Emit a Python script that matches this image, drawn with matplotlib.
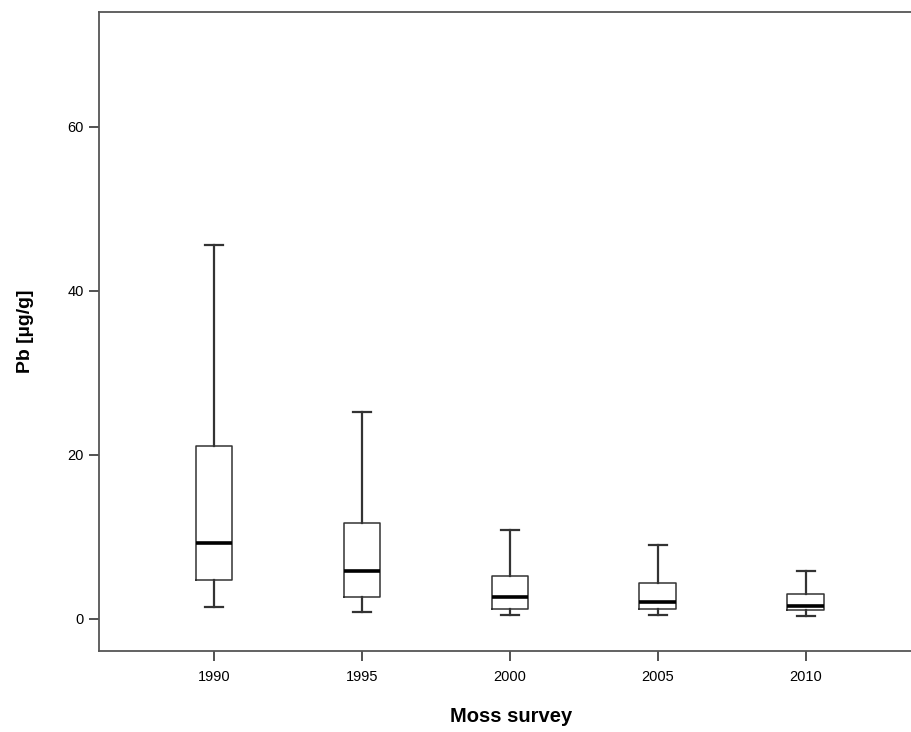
import matplotlib
matplotlib.use('Agg')
import matplotlib.pyplot as plt

plt.rcParams['font.family'] = ['Liberation Sans', 'DejaVu Sans']

# data (Pb, ug/g)
years = ['1990', '1995', '2000', '2005', '2010']
whisker_low = [1.5, 0.9, 0.5, 0.5, 0.4]
q1 = [4.8, 2.7, 1.2, 1.2, 1.1]
median = [9.3, 5.8, 2.65, 2.1, 1.6]
q3 = [21.1, 11.7, 5.2, 4.4, 3.05]
whisker_high = [45.6, 25.2, 10.85, 9.0, 5.9]

stats = []
for i, yr in enumerate(years):
    stats.append({'label': yr, 'whislo': whisker_low[i], 'q1': q1[i], 'med': median[i],
                  'q3': q3[i], 'whishi': whisker_high[i], 'fliers': []})

fig = plt.figure(figsize=(9.12, 7.32), dpi=100)
# axes run past the right edge of the picture, as in the original crop
ax = fig.add_axes([0.1086, 0.1107, 0.95, 0.873])

ax.bxp(stats, positions=range(len(years)), widths=0.248, showfliers=False,
       boxprops=dict(color='#333333', linewidth=1.1),
       whiskerprops=dict(color='#333333', linewidth=1.6),
       capprops=dict(color='#333333', linewidth=1.6),
       medianprops=dict(color='black', linewidth=2.6))

ax.set_xlim(-0.778, -0.778 + 0.95 * 912 / 147.9)
ax.set_ylim(-3.9, 74.0)
ax.set_yticks([0, 20, 40, 60])
ax.set_xticks(range(len(years)))
ax.set_xticklabels(years)

for side in ['left', 'bottom', 'top', 'right']:
    ax.spines[side].set_color('#555555')
    ax.spines[side].set_linewidth(1.3)
ax.tick_params(axis='both', length=7, width=1.3, color='#444444', labelsize=10.5, pad=4)
ax.tick_params(axis='x', pad=7)

ax.set_ylabel('Pb [µg/g]', fontsize=14, fontweight='bold', labelpad=24)
ax.set_xlabel('Moss survey', fontsize=14.5, fontweight='bold')
ax.xaxis.set_label_coords(0.476, -0.087)

fig.savefig('out.png', dpi=100)
